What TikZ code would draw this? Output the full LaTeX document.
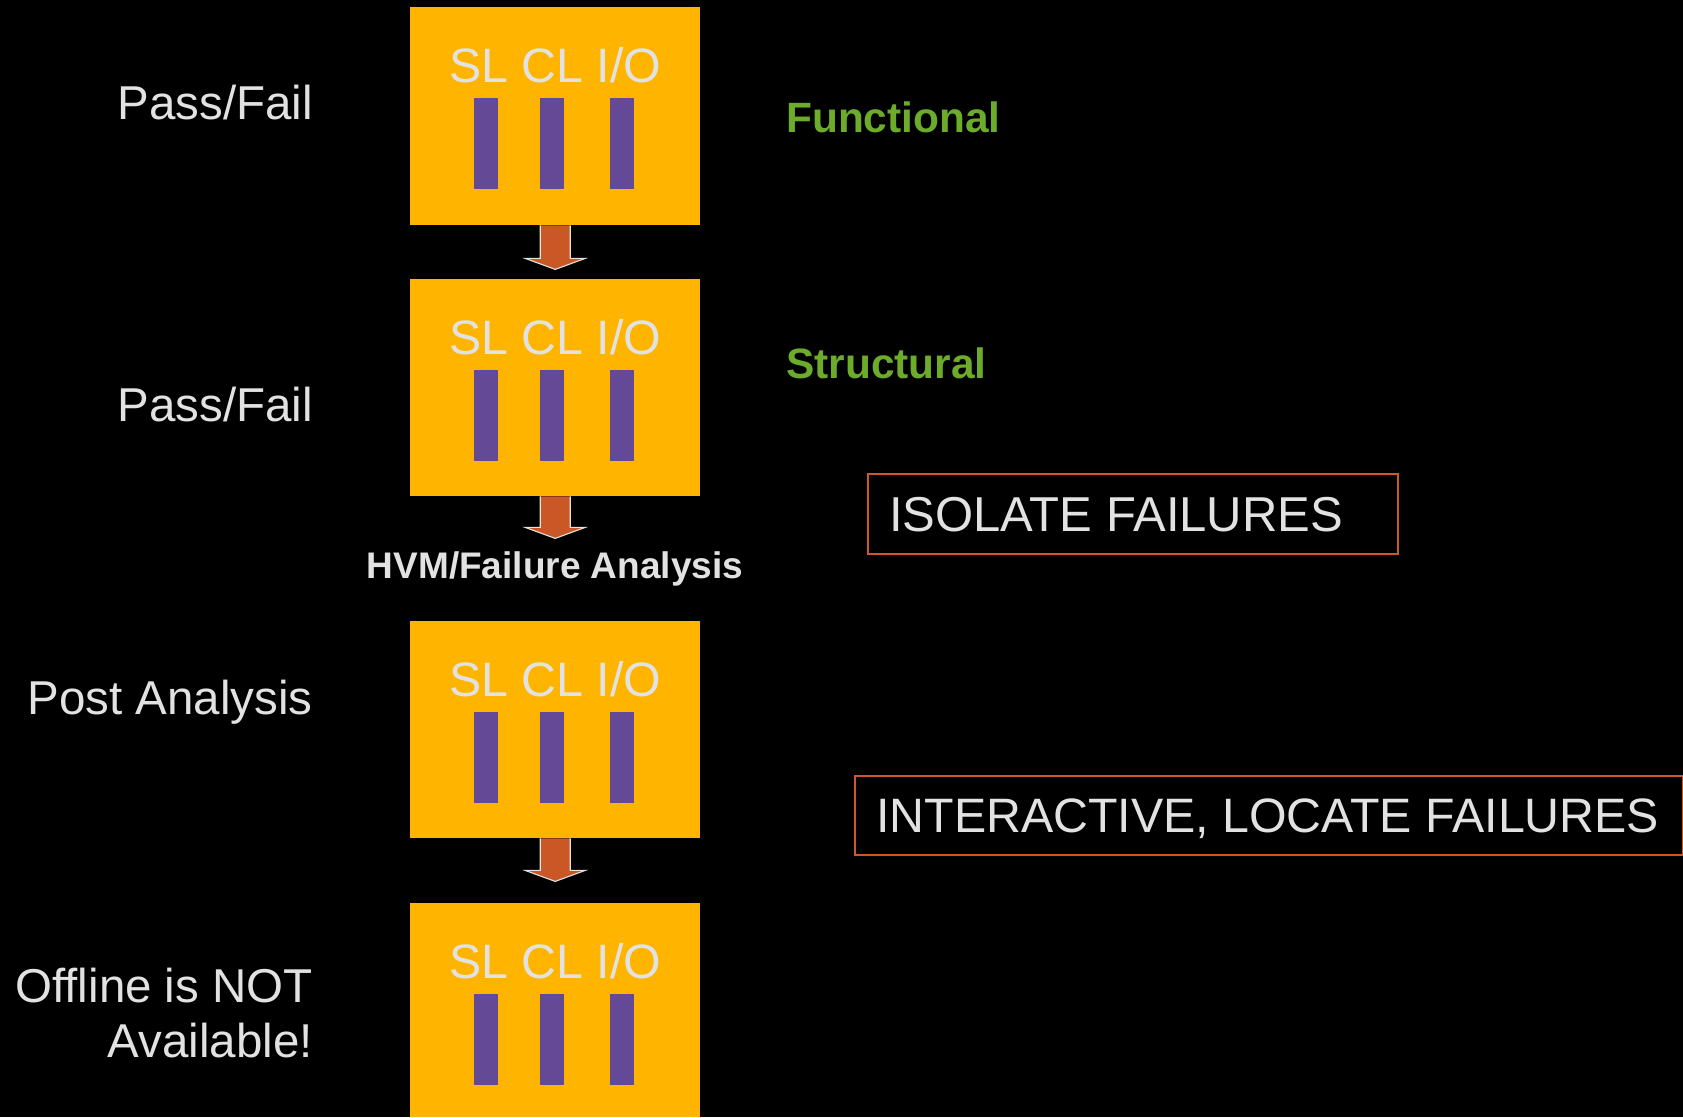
\documentclass[tikz,border=0pt]{standalone}
\usepackage{fontspec}
\setmainfont{Liberation Sans}
\usetikzlibrary{calc}

\definecolor{chipfill}{RGB}{255,180,0}
\definecolor{barfill}{RGB}{100,74,150}
\definecolor{arrowfill}{RGB}{202,88,38}
\definecolor{framecol}{RGB}{208,88,38}
\definecolor{labelgray}{RGB}{226,226,226}
\definecolor{stagegreen}{RGB}{108,172,42}

\tikzset{
  chip/.style={fill=chipfill, draw=none, minimum width=290pt, anchor=north west, inner sep=0pt},
  bar/.style={fill=barfill, draw=none},
  chiptext/.style={anchor=base, text=labelgray, inner sep=0pt, font=\fontsize{48.3}{58}\selectfont},
  sidelabel/.style={anchor=base east, text=labelgray, inner sep=0pt, font=\fontsize{47.5}{55}\selectfont},
  stagelabel/.style={anchor=base west, text=stagegreen, inner sep=0pt, font=\bfseries\fontsize{42.4}{50}\selectfont},
  framed/.style={draw=framecol, line width=1.8pt, anchor=north west, inner sep=0pt},
  frametext/.style={anchor=base west, text=labelgray, inner sep=0pt, font=\fontsize{49}{58}\selectfont},
  blockarrow/.style={fill=arrowfill, draw=labelgray, line width=1.1pt, line join=miter},
}

% draw the three purple lanes inside a chip
\newcommand{\chipbars}[1]{%
  \foreach \dx in {64,130,200} {
    \fill[bar] ($(#1.north west)+(\dx,91)$) rectangle ++(24,91);
  }
}

% block arrow hanging below a chip, from its south edge
\newcommand{\downarrowfrom}[2]{%
  \draw[blockarrow] ($(#1.south)+(-15,0)$) -- ++(0,#2) -- ++(-15,0)
    -- ($(#1.south)+(0,#2+11)$) -- ($(#1.south)+(30,#2)$) -- ++(-15,0)
    -- ($(#1.south)+(15,0)$);
}

\begin{document}
\begin{tikzpicture}[x=1pt,y=-1pt]
  \fill[black] (0,0) rectangle (1683,1117);
  \useasboundingbox (0,0) rectangle (1683,1117);

  % chips
  \node[chip, minimum height=218pt] (c1) at (410,7) {};
  \node[chip, minimum height=217pt] (c2) at (410,279) {};
  \node[chip, minimum height=217pt] (c3) at (410,621) {};
  \node[chip, minimum height=214pt] (c4) at (410,903) {};

  \foreach \c in {c1,c2,c3,c4} {
    \node[chiptext] (\c t) at ($(\c.north)+(0,75)$) {SL CL I/O};
    \chipbars{\c}
  }

  % arrows between chips
  \downarrowfrom{c1}{33}
  \downarrowfrom{c2}{31}
  \downarrowfrom{c3}{32}

  % left-hand labels
  \node[sidelabel] (l1) at (313,119) {Pass/Fail};
  \node[sidelabel] (l2) at (313,421) {Pass/Fail};
  \node[sidelabel] (l3) at (313,714) {Post Analysis};
  \node[sidelabel] (l4a) at (313,1002) {Offline is NOT};
  \node[sidelabel] (l4b) at (313,1057) {Available!};

  % stage names
  \node[stagelabel] (s1) at (786,132) {Functional};
  \node[stagelabel] (s2) at (786,378) {Structural};

  % analysis step label
  \node[anchor=base, text=labelgray, inner sep=0pt, font=\bfseries\fontsize{37}{44}\selectfont] (hvm) at (555,578) {HVM/Failure Analysis};

  % framed notes
  \node[framed, minimum width=530pt, minimum height=80pt] (f1) at (867,473) {};
  \node[frametext] (f1t) at (889,531) {ISOLATE FAILURES};
  \node[framed, minimum width=828pt, minimum height=79pt] (f2) at (854,775) {};
  \node[frametext, font=\fontsize{48.3}{58}\selectfont] (f2t) at (876,832) {INTERACTIVE, LOCATE FAILURES};
\end{tikzpicture}
\end{document}
